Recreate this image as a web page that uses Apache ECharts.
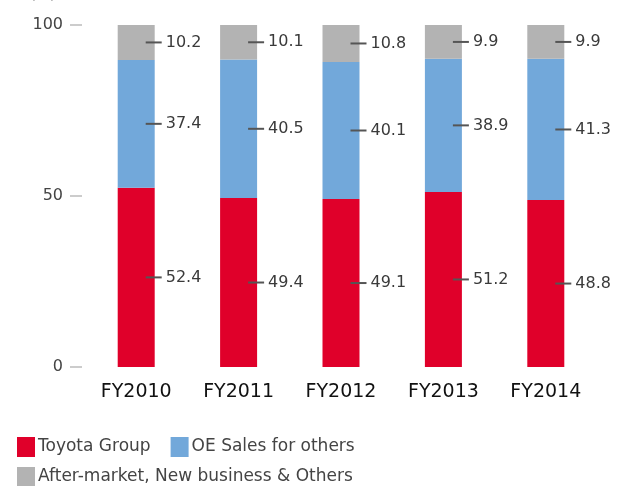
<!DOCTYPE html>
<html>
<head>
<meta charset="utf-8">
<script src="https://cdn.jsdelivr.net/npm/echarts@6/dist/echarts.min.js"></script>
<style>
  html, body { margin: 0; padding: 0; background: #fff; }
  #main { width: 630px; height: 486px; }
</style>
</head>
<body>
<div id="main"></div>
<script>
// 数据
var years = ['FY2010', 'FY2011', 'FY2012', 'FY2013', 'FY2014'];
var toyotaGroup = [52.4, 49.4, 49.1, 51.2, 48.8];
var oeSales = [37.4, 40.5, 40.1, 38.9, 41.3];
var afterMarket = [10.2, 10.1, 10.8, 9.9, 9.9];
var yTicks = [0, 50, 100];

var fontName = '"DejaVu Sans", sans-serif';

/*每段右侧的短线加数值*/
function segLabel() {
    return {
        show: true,
        position: 'right',
        distance: 0,
        offset: [-9, 0],
        formatter: function (p) {
            return '{d|}{v|' + p.value.toFixed(1) + '}';
        },
        rich: {
            d: { width: 16, height: 2, backgroundColor: '#555' },
            v: { fontSize: 16, color: '#3a3a3a', fontFamily: fontName, padding: [0, 0, 0, 4] }
        }
    };
}

var myChart = echarts.init(document.getElementById('main'));
var option = {
    animation: false,
    graphic: [{
        type: 'text', left: 30, top: -13,
        style: { text: '(%)', fontSize: 15, fill: '#444', fontFamily: fontName }
    }],
    legend: [{
        left: 12, top: 432,
        itemWidth: 18, itemHeight: 20, itemGap: 20,
        icon: 'rect',
        textStyle: { fontSize: 17, color: '#444', fontFamily: fontName, padding: [0, 0, 0, -2] },
        data: ['Toyota Group', 'OE Sales for others']
    }, {
        left: 12, top: 462,
        itemWidth: 18, itemHeight: 20,
        icon: 'rect',
        textStyle: { fontSize: 17, color: '#444', fontFamily: fontName, padding: [0, 0, 0, -2] },
        data: ['After-market, New business & Others']
    }],
    grid: { left: 85, right: 33, top: 25, bottom: 119 },
    xAxis: {
        type: 'category',
        data: years,
        axisLine: { show: false },
        axisTick: { show: false },
        axisLabel: { fontSize: 19, color: '#111', fontFamily: fontName, margin: 16 }
    },
    yAxis: {
        type: 'value',
        min: 0, max: 100, interval: 50,
        splitLine: { show: false },
        axisLine: { show: false },
        axisTick: { show: false },
        axisLabel: {
            margin: 3,
            formatter: function (v) {
                return yTicks.indexOf(v) >= 0 ? '{v|' + v + '}{t|}' : '';
            },
            rich: {
                v: { fontSize: 16, color: '#444', fontFamily: fontName, padding: [0, 7, 0, 0] },
                t: { width: 12, height: 1, backgroundColor: '#999' }
            }
        }
    },
    series: [
        {
            name: 'Toyota Group', type: 'bar', stack: 'total', barWidth: 37,
            itemStyle: { color: '#E0002A' },
            label: segLabel(),
            data: toyotaGroup
        },
        {
            name: 'OE Sales for others', type: 'bar', stack: 'total', barWidth: 37,
            itemStyle: { color: '#72A8DA' },
            label: segLabel(),
            data: oeSales
        },
        {
            name: 'After-market, New business & Others', type: 'bar', stack: 'total', barWidth: 37,
            itemStyle: { color: '#B3B3B3' },
            label: segLabel(),
            data: afterMarket
        }
    ]
};
myChart.setOption(option);
</script>
</body>
</html>
